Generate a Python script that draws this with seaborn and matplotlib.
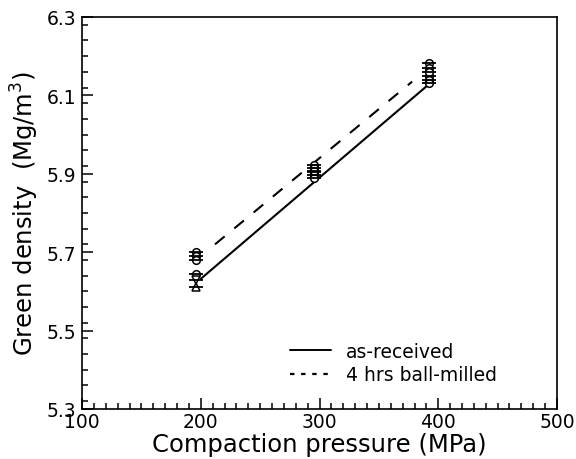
import matplotlib
matplotlib.use("Agg")
import matplotlib.pyplot as plt
import seaborn as sns
from matplotlib.ticker import MultipleLocator
from matplotlib.lines import Line2D

# ---- data ----
pressure_pts = [196, 196, 196, 295, 295, 295, 392, 392, 392]
density_asr = [5.645, 5.628, 5.612, 5.905, 5.897, 5.890, 6.150, 6.140, 6.132]
marker_asr = ["o", "v", "^", "o", "o", "o", "o", "o", "o"]
density_bm = [5.700, 5.690, 5.680, 5.922, 5.915, 5.908, 6.182, 6.170, 6.160]

fit_x_asr = [200, 392]
fit_y_asr = [5.632, 6.128]
fit_x_bm = [212, 378]
fit_y_bm = [5.720, 6.135]

xticks = [100, 200, 300, 400, 500]
yticks = [5.3, 5.5, 5.7, 5.9, 6.1, 6.3]
legend_labels = ["as-received", "4 hrs ball-milled"]

sns.set_style("ticks")
plt.rcParams["font.family"] = ["DejaVu Sans"]
plt.rcParams["text.color"] = "black"
plt.rcParams["axes.labelcolor"] = "black"
plt.rcParams["xtick.color"] = "black"
plt.rcParams["ytick.color"] = "black"

fig = plt.figure(figsize=(5.76, 4.6), dpi=100)
ax = fig.add_axes([0.1424, 0.1087, 0.8246, 0.8523])

sns.lineplot(x=fit_x_asr, y=fit_y_asr, ax=ax, color="black", lw=1.5, linestyle="-")
sns.lineplot(x=fit_x_bm, y=fit_y_bm, ax=ax, color="black", lw=1.5, linestyle=(0, (6, 6)))

for xv, yv, m in zip(pressure_pts, density_asr, marker_asr):
    ax.plot(xv, yv, marker=m, ms=5.5, mfc="white", mec="black", mew=1.1, ls="none", zorder=3)
    ax.plot(xv, yv, marker="_", ms=10, mec="black", mew=1.3, ls="none", zorder=4)
for xv, yv in zip(pressure_pts, density_bm):
    ax.plot(xv, yv, marker="o", ms=5.5, mfc="white", mec="black", mew=1.1, ls="none", zorder=3)
    ax.plot(xv, yv, marker="_", ms=10, mec="black", mew=1.3, ls="none", zorder=4)

ax.set_xlim(100, 500)
ax.set_ylim(5.3, 6.3)
ax.set_xticks(xticks)
ax.set_yticks(yticks)
ax.set_xticklabels([str(v) for v in xticks])
ax.set_yticklabels([f"{v:.1f}" for v in yticks])
ax.xaxis.set_minor_locator(MultipleLocator(10))
ax.yaxis.set_minor_locator(MultipleLocator(0.04))
ax.tick_params(which="both", direction="in", top=False, right=False, labelsize=13.5, width=1.1)
ax.tick_params(axis="x", which="major", length=8, pad=2)
ax.tick_params(axis="y", which="major", length=8, pad=4)
ax.tick_params(which="minor", length=4)
for s in ax.spines.values():
    s.set_linewidth(1.2)
    s.set_color("black")

ax.set_xlabel("Compaction pressure (MPa)", fontsize=17.5, labelpad=1)
ax.set_ylabel("Green density  (Mg/m$^3$)", fontsize=17.5, labelpad=4)

handles = [Line2D([0], [0], color="black", lw=1.4, ls="-"),
           Line2D([0], [0], color="black", lw=1.6, ls=(0, (2, 3)))]
ax.legend(handles, legend_labels, loc="lower right", bbox_to_anchor=(0.91, 0.02),
          frameon=False, fontsize=13.5, handlelength=2.2, handletextpad=0.8, labelspacing=0.25)

fig.savefig("out.png", dpi=100)
